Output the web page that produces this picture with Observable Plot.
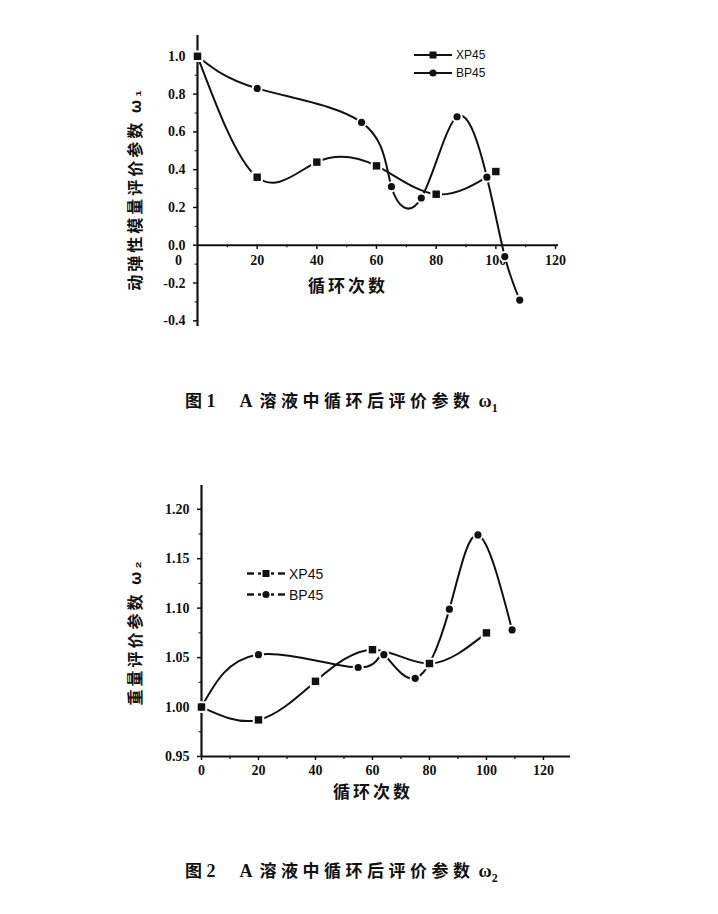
<!DOCTYPE html>
<html><head><meta charset="utf-8">
<script src="https://cdn.jsdelivr.net/npm/d3@7"></script>
<script src="https://cdn.jsdelivr.net/npm/@observablehq/plot@0.6"></script>
<style>
body{margin:0;background:#fff;}
#page{position:relative;width:718px;height:914px;overflow:hidden;background:#fff;}
#c1{position:absolute;left:0;top:0;}
#c2{position:absolute;left:0;top:470px;}
.cap{position:absolute;left:185px;height:22px;line-height:22px;white-space:nowrap;color:#111;font-weight:bold;}
.cap .cjk{font-family:"Noto Sans CJK SC";font-size:17px;letter-spacing:4.5px;}
.cap .ser{font-family:"Liberation Serif",serif;font-size:18px;}
.leg{position:absolute;white-space:nowrap;color:#111;}
.leg .row{display:flex;align-items:center;}
.leg svg{display:block;}
.leg span{font-family:"Liberation Sans",sans-serif;}
</style></head>
<body><div id="page">
<div id="c1"></div>
<div id="c2"></div>
<div id="leg1" class="leg" style="left:413px;top:46px;"></div>
<div id="leg2" class="leg" style="left:246px;top:563px;"></div>
<div class="cap" style="top:389px;"><span class="cjk">图</span><span class="ser">1</span><span class="ser" style="margin-left:24px;margin-right:7px">A</span><span class="cjk">溶液中循环后评价参数</span><span class="ser" style="margin-left:4px">ω<sub style="font-size:12px">1</sub></span></div>
<div class="cap" style="top:859px;"><span class="cjk">图</span><span class="ser">2</span><span class="ser" style="margin-left:24px;margin-right:7px">A</span><span class="cjk">溶液中循环后评价参数</span><span class="ser" style="margin-left:4px">ω<sub style="font-size:12px">2</sub></span></div>
</div>
<script>
// ---- data ----
const seriesNames = ["XP45", "BP45"];
const cyclesXP = [0, 20, 40, 60, 80, 100];
const omega1XP = [1.0, 0.36, 0.44, 0.42, 0.27, 0.39];
const cyclesBP1 = [0, 20, 55, 65, 75, 87, 97, 103, 108];
const omega1BP = [1.0, 0.83, 0.65, 0.31, 0.25, 0.68, 0.36, -0.06, -0.29];
const omega2XP = [1.0, 0.987, 1.026, 1.058, 1.044, 1.075];
const cyclesBP2 = [0, 20, 55, 64, 75, 87, 97, 109];
const omega2BP = [1.0, 1.053, 1.040, 1.053, 1.029, 1.099, 1.174, 1.078];
const xTicks = [0, 20, 40, 60, 80, 100, 120];
const xMinorTicks = [10, 30, 50, 70, 90, 110];
const y1Ticks = [-0.4, -0.2, 0.0, 0.2, 0.4, 0.6, 0.8, 1.0];
const y1Minor = [-0.3, -0.1, 0.1, 0.3, 0.5, 0.7, 0.9];
const y2Ticks = [0.95, 1.00, 1.05, 1.10, 1.15, 1.20];
const y2Minor = [0.975, 1.025, 1.075, 1.125, 1.175];
const xTitle = "循环次数";
const y1Title = "动弹性模量评价参数 ω₁";
const y2Title = "重量评价参数 ω₂";

const toRows = (xs, ys) => xs.map((c, i) => ({cycle: c, value: ys[i]}));
const xp1 = toRows(cyclesXP, omega1XP);
const bp1 = toRows(cyclesBP1, omega1BP);
const xp2 = toRows(cyclesXP, omega2XP);
const bp2 = toRows(cyclesBP2, omega2BP);

const INK = "#111";
const SERIF = "'Liberation Serif', serif";
const CJK = "'Noto Sans CJK SC', sans-serif";

function seriesMarks(xp, bp) {
  return [
    Plot.line(xp, {x: "cycle", y: "value", curve: "natural", stroke: INK, strokeWidth: 2}),
    Plot.line(bp, {x: "cycle", y: "value", curve: "natural", stroke: INK, strokeWidth: 2}),
    Plot.dot(xp, {x: "cycle", y: "value", symbol: "square", r: 6.5, fill: "white"}),
    Plot.dot(bp, {x: "cycle", y: "value", symbol: "circle", r: 5.5, fill: "white"}),
    Plot.dot(xp, {x: "cycle", y: "value", symbol: "square", r: 4.2, fill: INK}),
    Plot.dot(bp, {x: "cycle", y: "value", symbol: "circle", r: 3.6, fill: INK})
  ];
}

// ---- chart 1 ----
const chart1 = Plot.plot({
  width: 718, height: 340,
  marginLeft: 197, marginRight: 160, marginTop: 35, marginBottom: 14,
  x: {domain: [0, 121], axis: null},
  y: {domain: [-0.43, 1.11]},
  style: {fontFamily: SERIF, fontSize: "14px", fontWeight: "bold", color: INK, background: "transparent"},
  marks: [
    Plot.axisY(y1Ticks, {tickSize: 4, tickPadding: 8, tickFormat: d => d.toFixed(1), label: null, fontSize: 14, strokeWidth: 1.5}),
    Plot.ruleY(y1Minor, {y: d => d, x1: 0, x2: -0.8, stroke: INK, strokeWidth: 1}),
    Plot.ruleX([0], {stroke: INK, strokeWidth: 2.2}),
    Plot.ruleY([0], {stroke: INK, strokeWidth: 2.2}),
    Plot.ruleX(xTicks.slice(1), {x: d => d, y1: 0, y2: -0.022, stroke: INK, strokeWidth: 1.5}),
    Plot.ruleX(xMinorTicks, {x: d => d, y1: 0, y2: -0.013, stroke: INK, strokeWidth: 1.2}),
    Plot.text(xTicks.slice(1), {x: d => d, y: 0, dy: 15, text: d => String(d), fontSize: 14}),
    Plot.text([0], {x: d => d, y: 0, dx: -19, dy: 15, text: d => String(d), fontSize: 14}),
    Plot.text([xTitle], {frameAnchor: "bottom", dx: -30, dy: -35, fontFamily: CJK, fontSize: 17, fontWeight: "bold"}),
    Plot.text([y1Title], {frameAnchor: "left", textAnchor: "middle", dx: -62, dy: 8, rotate: -90, fontFamily: CJK, fontSize: 16, fontWeight: "bold"}),
    ...seriesMarks(xp1, bp1)
  ]
});
document.getElementById("c1").appendChild(chart1);

// ---- chart 2 ----
const chart2 = Plot.plot({
  width: 718, height: 340,
  marginLeft: 201, marginRight: 148, marginTop: 15, marginBottom: 54,
  x: {domain: [0, 129.5]},
  y: {domain: [0.95, 1.224]},
  style: {fontFamily: SERIF, fontSize: "14px", fontWeight: "bold", color: INK, background: "transparent"},
  marks: [
    Plot.axisY(y2Ticks, {tickSize: 4, tickPadding: 8, tickFormat: d => d.toFixed(2), label: null, fontSize: 14, strokeWidth: 1.5}),
    Plot.axisX(xTicks, {tickSize: 4, tickPadding: 5, tickFormat: d => String(d), label: null, fontSize: 14, strokeWidth: 1.5}),
    Plot.ruleY(y2Minor, {y: d => d, x1: 0, x2: -0.9, stroke: INK, strokeWidth: 1}),
    Plot.ruleX(xMinorTicks, {x: d => d, y1: 0.95, y2: 0.947, stroke: INK, strokeWidth: 1.2}),
    Plot.ruleX([0], {stroke: INK, strokeWidth: 2.2}),
    Plot.ruleY([0.95], {stroke: INK, strokeWidth: 2.2}),
    Plot.text([xTitle], {frameAnchor: "bottom", dx: -13, dy: 41, fontFamily: CJK, fontSize: 17, fontWeight: "bold"}),
    Plot.text([y2Title], {frameAnchor: "left", textAnchor: "middle", dx: -66, dy: 11, rotate: -90, fontFamily: CJK, fontSize: 16, fontWeight: "bold"}),
    ...seriesMarks(xp2, bp2)
  ]
});
document.getElementById("c2").appendChild(chart2);

// letter spacing for CJK axis titles
for (const svg of [chart1, chart2]) {
  d3.select(svg).selectAll("text").filter(function() {
    const t = this.textContent;
    return t === y1Title || t === y2Title || t === xTitle;
  }).style("letter-spacing", "3px");
}

// ---- legends ----
function legend(id, dashed, fontSize, rowH) {
  const host = d3.select("#" + id);
  seriesNames.forEach((name, i) => {
    const row = host.append("div").attr("class", "row").style("height", rowH + "px");
    const w = 40;
    const s = row.append("svg").attr("width", w).attr("height", rowH);
    const cy = rowH / 2, cx = w / 2;
    if (dashed) {
      [[1, 8], [12, cx - 5], [cx + 5, w - 12], [w - 8, w - 1]].forEach(([a, b]) =>
        s.append("line").attr("x1", a).attr("x2", b).attr("y1", cy).attr("y2", cy).attr("stroke", INK).attr("stroke-width", 2.4));
    } else {
      s.append("line").attr("x1", 1).attr("x2", w - 1).attr("y1", cy).attr("y2", cy).attr("stroke", INK).attr("stroke-width", 2);
    }
    if (i === 0) s.append("rect").attr("x", cx - 3.5).attr("y", cy - 3.5).attr("width", 7).attr("height", 7).attr("fill", INK);
    else s.append("circle").attr("cx", cx).attr("cy", cy).attr("r", 3.6).attr("fill", INK);
    row.append("span").style("font-size", fontSize + "px").style("margin-left", "3px").text(name);
  });
}
legend("leg1", false, 12, 18);
legend("leg2", true, 14, 21);
</script>
</body></html>
